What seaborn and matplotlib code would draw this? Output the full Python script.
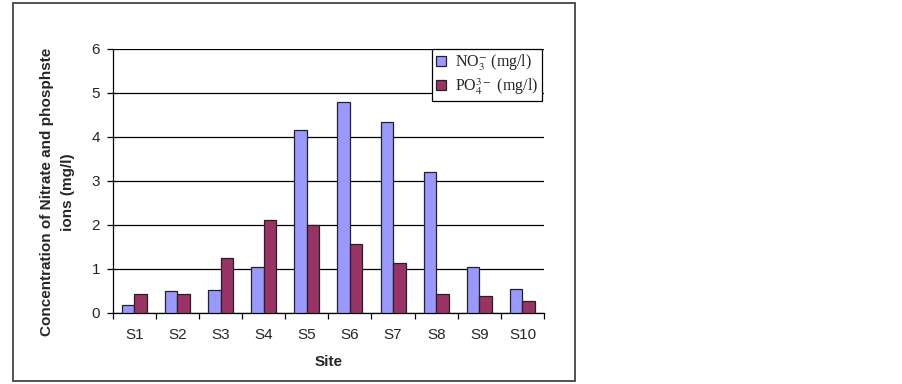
import numpy as np
import pandas as pd
import matplotlib
matplotlib.use("Agg")
import matplotlib.pyplot as plt
import seaborn as sns
from matplotlib.patches import Rectangle, Patch

sites = ["S1", "S2", "S3", "S4", "S5", "S6", "S7", "S8", "S9", "S10"]
no3 = [0.19, 0.50, 0.53, 1.05, 4.16, 4.80, 4.33, 3.20, 1.05, 0.55]
po4 = [0.44, 0.44, 1.25, 2.12, 2.01, 1.57, 1.14, 0.44, 0.38, 0.27]
series_names = [r"NO$_3^{-}$ (mg/l)", r"PO$_4^{3-}$ (mg/l)"]
colors = ["#9999FF", "#993366"]
yticks = [0, 1, 2, 3, 4, 5, 6]

df = pd.DataFrame({
    "Site": sites * 2,
    "value": no3 + po4,
    "series": [series_names[0]] * len(sites) + [series_names[1]] * len(sites),
})

sns.set_style("white")
plt.rcParams["font.family"] = ["Liberation Sans", "DejaVu Sans"]
plt.rcParams["mathtext.fontset"] = "stix"

fig = plt.figure(figsize=(9.02, 3.84), dpi=100)
ax = fig.add_axes([112.7 / 902, 1 - 313 / 384, (544 - 112.7) / 902, (313 - 49) / 384])

sns.barplot(data=df, x="Site", y="value", hue="series", palette=colors,
            saturation=1, width=0.58, gap=0, edgecolor="#222222", linewidth=0.9,
            dodge=True, ax=ax, legend=False, zorder=3)

ax.set_ylim(0, 6)
ax.set_xlim(-0.5, len(sites) - 0.5)
ax.set_yticks(yticks)
ax.set_yticklabels([str(t) for t in yticks], fontsize=11)
ax.yaxis.grid(True, color="black", linewidth=0.9, zorder=0)
ax.set_axisbelow(True)
ax.xaxis.grid(False)

for s in ["top", "right"]:
    ax.spines[s].set_visible(False)
for s in ["left", "bottom"]:
    ax.spines[s].set_color("black")
    ax.spines[s].set_linewidth(0.9)

ax.tick_params(axis="y", which="major", direction="out", length=4, width=0.9,
               color="black", left=True, pad=5)
ax.set_xticks(range(len(sites)))
ax.set_xticklabels(sites, fontsize=11)
ax.tick_params(axis="x", which="major", length=0, pad=11)
ax.set_xticks(np.arange(-0.5, len(sites), 1.0), minor=True)
ax.tick_params(axis="x", which="minor", direction="out", length=4, width=0.9,
               color="black", bottom=True)

ax.set_xlabel("Site", fontsize=11, fontweight="bold", labelpad=9)
ax.set_ylabel("Concentration of Nitrate and phosphste\nions (mg/l)", fontsize=11,
              fontweight="bold", linespacing=1.6)
ax.yaxis.set_label_coords((75 - 112.7) / 431.3, (313 - 192) / 264)

handles = [Patch(facecolor=c, edgecolor="#222222", linewidth=0.9) for c in colors]
leg = ax.legend(handles, series_names, loc="upper right",
                bbox_to_anchor=((542 - 112.7) / (544 - 112.7), 1.0),
                borderaxespad=0, frameon=True, fancybox=False, framealpha=1,
                handlelength=0.6, handleheight=0.6, handletextpad=0.55,
                labelspacing=0.2, borderpad=0.25,
                prop={"family": "Liberation Serif", "size": 11.5})
leg.get_frame().set_edgecolor("black")
leg.get_frame().set_linewidth(0.9)
leg.set_zorder(5)

fig.patches.append(Rectangle((13 / 902, 1 - 381 / 384), (575 - 13) / 902, (381 - 3) / 384,
                             transform=fig.transFigure, fill=False,
                             edgecolor="#444444", linewidth=1.3))

fig.savefig("out.png", dpi=100)
